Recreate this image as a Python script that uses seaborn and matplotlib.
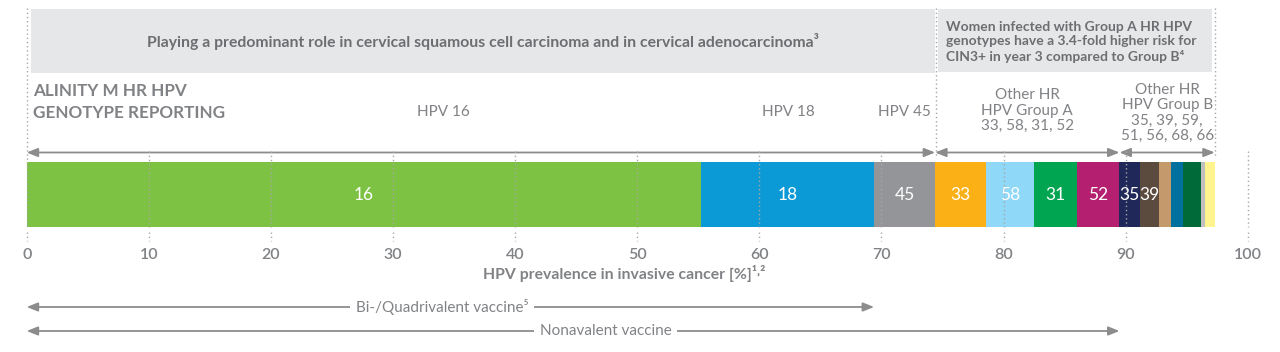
import numpy as np
import pandas as pd
import seaborn as sns
import matplotlib.pyplot as plt
from matplotlib.patches import Rectangle

# genotype shares of HPV prevalence in invasive cancer [%]
genotypes = ["16", "18", "45", "33", "58", "31", "52",
             "35", "39", "59", "51", "56", "68", "66"]
prevalence = [55.2, 14.2, 5.0, 4.2, 3.9, 3.5, 3.5,
              1.7, 1.5, 1.0, 1.0, 1.5, 0.3, 0.8]
colors = ["#7dc242", "#0b9ad6", "#939598", "#fbb116", "#8fd8f7", "#00a551", "#b51f6f",
          "#1f2859", "#5b4a3e", "#c49a6c", "#00709e", "#006b38", "#c0c0c0", "#fff48e"]
labelled = ["16", "18", "45", "33", "58", "31", "52", "35", "39"]
ticks = list(range(0, 101, 10))

# group spans (end of HPV 45, end of group A, end of group B)
cum = np.cumsum(prevalence)
end45 = cum[genotypes.index("45")]
end18 = cum[genotypes.index("18")]
endA = cum[genotypes.index("52")]
endB = cum[-1]

df = pd.DataFrame({"genotype": genotypes, "cum": cum, "row": "HPV"})

GREY = "#808285"
DARK = "#6d6e71"
LINE = "#8c8c8c"

sns.set_theme(style="white")
plt.rcParams["font.family"] = ["Lato", "DejaVu Sans"]

W, H = 1280, 352
x0_px, x100_px = 26.7, 1247.7
bar_top, bar_bot = 161.7, 226.7
fig = plt.figure(figsize=(W / 100, H / 100), dpi=100)
ax = fig.add_axes([x0_px / W, (H - bar_bot) / H, (x100_px - x0_px) / W, (bar_bot - bar_top) / H])

# stacked bar: draw cumulative bars, longest first
sns.barplot(data=df, x="cum", y="row", hue="genotype", hue_order=genotypes[::-1],
            palette=dict(zip(genotypes, colors)), dodge=False, width=1,
            saturation=1, errorbar=None, legend=False, linewidth=0, ax=ax)
ax.set_xlim(0, 100)
ax.set_ylim(0.5, -0.5)
sns.despine(ax=ax, left=True, bottom=True)
ax.set_ylabel("")
ax.set_xlabel("")
ax.set_yticks([])
ax.set_xticks(ticks)
ax.set_xticklabels([str(t) for t in ticks], fontsize=11.5, color=GREY, fontweight="semibold")
ax.tick_params(axis="x", length=0, pad=15)


def py(p):
    # pixel row -> data y
    return (p - (bar_top + bar_bot) / 2) / (bar_bot - bar_top)


# segment labels
for g, c, v in zip(genotypes, cum, prevalence):
    if g in labelled:
        ax.text(c - v / 2, 0.02, g, color="white", fontsize=12.5,
                ha="center", va="center", zorder=10)

# dotted gridlines and tick marks
dots = (0, (1, 2))
ax.vlines(ticks[1:], py(151), py(227), colors="#a8a8a8", linestyles=dots, lw=1, clip_on=False, zorder=5)
ax.vlines(ticks, py(232), py(241), colors="#a8a8a8", linestyles=dots, lw=1, clip_on=False)
ax.vlines([0], py(8), py(227), colors="#a8a8a8", linestyles=dots, lw=1, clip_on=False, zorder=5)
ax.vlines([end45 + 0.05, endB], py(8), py(158), colors="#a8a8a8", linestyles=dots, lw=1, clip_on=False)

# grey header boxes
ax.add_patch(Rectangle((0.32, py(72.7)), end45 - 0.35, py(9.3) - py(72.7), facecolor="#e6e7e8",
                       edgecolor="none", clip_on=False, zorder=0))
ax.add_patch(Rectangle((end45 + 0.25, py(71.7)), endB - end45 - 0.45, py(9.3) - py(71.7),
                       facecolor="#e6e7e8", edgecolor="none", clip_on=False, zorder=0))
ax.text((0.32 + end45) / 2, py(42), "Playing a predominant role in cervical squamous cell carcinoma and in cervical adenocarcinoma³",
        ha="center", va="center", fontsize=11.3, fontweight="bold", color=DARK)
ax.text(end45 + 0.85, py(42), "Women infected with Group A HR HPV\ngenotypes have a 3.4-fold higher risk for\nCIN3+ in year 3 compared to Group B⁴",
        ha="left", va="center", fontsize=10, fontweight="bold", color=DARK, linespacing=1.22)

# header labels
ax.text(0.5, py(102), "ALINITY M HR HPV\nGENOTYPE REPORTING", ha="left", va="center",
        fontsize=12.3, fontweight="bold", color=GREY, linespacing=1.45)
for lab, xc in [("HPV 16", 34.1), ("HPV 18", 62.4), ("HPV 45", 71.9)]:
    ax.text(xc, py(112), lab, ha="center", va="center", fontsize=11, color=GREY)
ax.text((end45 + endA) / 2, py(110.5), "Other HR\nHPV Group A\n33, 58, 31, 52", ha="center", va="center",
        fontsize=11, color=GREY, linespacing=1.15)
ax.text((endA + endB) / 2, py(113), "Other HR\nHPV Group B\n35, 39, 59,\n51, 56, 68, 66", ha="center", va="center",
        fontsize=11, color=GREY, linespacing=1.12)

# group arrows above bar
head = "<|-|>,head_length=0.55,head_width=0.22"
for a, b in [(0, end45), (end45, endA), (endA, endB)]:
    ax.annotate("", xy=(b, py(152.5)), xytext=(a, py(152.5)), annotation_clip=False,
                arrowprops=dict(arrowstyle=head, color=LINE, lw=1.3, shrinkA=0, shrinkB=0))

# axis title
ax.text(48.9, py(273), "HPV prevalence in invasive cancer [%]¹˒²", ha="center", va="center",
        fontsize=11.3, fontweight="bold", color=GREY)

# vaccine coverage arrows
for yp, end, lab, xc in [(307, end18, "Bi-/Quadrivalent vaccine⁵", 34.0),
                         (331, endA, "Nonavalent vaccine", 47.4)]:
    ax.annotate("", xy=(end, py(yp)), xytext=(0, py(yp)), annotation_clip=False,
                arrowprops=dict(arrowstyle=head, color=LINE, lw=1.3, shrinkA=0, shrinkB=0))
    ax.text(xc, py(yp), lab, ha="center", va="center", fontsize=11, color=GREY,
            bbox=dict(facecolor="white", edgecolor="none", pad=4))

fig.savefig("out.png", dpi=100)
